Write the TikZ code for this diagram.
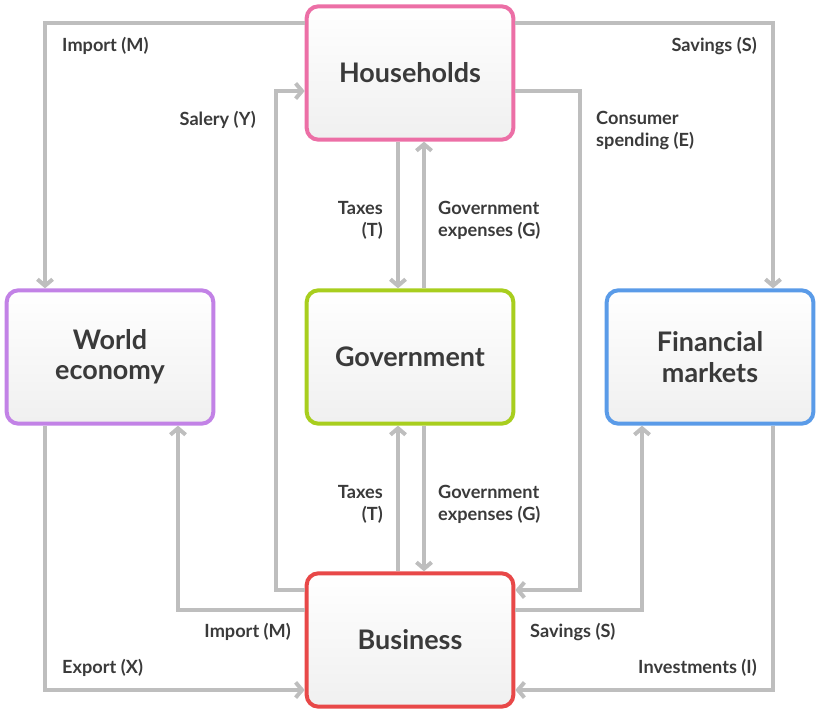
\documentclass[tikz,border=0pt]{standalone}
\usepackage{fontspec}
\setmainfont{Lato}
\usepackage{xcolor}
\definecolor{hhpink}{RGB}{236,111,166}
\definecolor{wepurple}{RGB}{194,130,230}
\definecolor{govgreen}{RGB}{168,206,30}
\definecolor{bured}{RGB}{232,72,72}
\definecolor{fmblue}{RGB}{90,155,232}
\definecolor{flowgray}{RGB}{190,190,190}
\definecolor{txtdark}{RGB}{58,58,58}
\usepackage{tikz}
\usetikzlibrary{arrows.meta,positioning,calc}

\tikzset{
  sector/.style={draw=#1,line width=3.4pt,rounded corners=10pt,
        top color=white,bottom color=black!6,
        minimum width=6.2cm,minimum height=4.0cm,align=center,
        text=txtdark,font=\fontsize{23}{26}\selectfont\bfseries},
  flow/.style={draw=flowgray,line width=3.4pt,
        -{Straight Barb[length=5.5pt,width=13pt]}},
  lbl/.style={text=txtdark,font=\fontsize{15.5}{18.7}\selectfont\bfseries,inner sep=0pt}
}

\begin{document}
\begin{tikzpicture}[x=0.03cm,y=-0.03cm]
  \useasboundingbox (0,0) rectangle (819,712);

  % sectors
  \node[sector=hhpink]   (hh)  at (410,73)  {Households};
  \node[sector=wepurple] (we)  at (110,357) {World\\economy};
  \node[sector=govgreen] (gov) at (410,357) {Government};
  \node[sector=fmblue]   (fm)  at (710,357) {Financial\\markets};
  \node[sector=bured]    (bu)  at (410,640) {Business};

  % flows
  \draw[flow] (hh.west |- 0,23) -| (we.north -| 45,0);
  \draw[flow] (hh.east |- 0,23) -| (fm.north -| 773,0);
  \draw[flow] (bu.west |- 0,590) -| (276,91) -- (hh.west |- 0,91);
  \draw[flow] (hh.east |- 0,91) -| (580,590) -- (bu.east |- 0,590);
  \draw[flow] (hh.south -| 398,0) -- (gov.north -| 398,0);
  \draw[flow] (gov.north -| 424,0) -- (hh.south -| 424,0);
  \draw[flow] (bu.north -| 398,0) -- (gov.south -| 398,0);
  \draw[flow] (gov.south -| 424,0) -- (bu.north -| 424,0);
  \draw[flow] (bu.west |- 0,610) -| (we.south -| 178,0);
  \draw[flow] (we.south -| 45,0) |- (bu.west |- 0,690);
  \draw[flow] (bu.east |- 0,610) -| (fm.south -| 642,0);
  \draw[flow] (fm.south -| 773,0) |- (bu.east |- 0,690);

  % labels
  \node[lbl,anchor=west] (limp1) at (62,46) {Import (M)};
  \node[lbl,anchor=east] (lsav1) at (757,46) {Savings (S)};
  \node[lbl,anchor=east] (lsal)  at (256,120) {Salery (Y)};
  \node[lbl,anchor=north west,align=left] (lcon) at (596,111) {Consumer\\spending (E)};
  \node[lbl,anchor=east,align=right] (ltax1) at (383,220) {Taxes\\(T)};
  \node[lbl,anchor=west,align=left]  (lgex1) at (438,220) {Government\\expenses (G)};
  \node[lbl,anchor=east,align=right] (ltax2) at (383,504) {Taxes\\(T)};
  \node[lbl,anchor=west,align=left]  (lgex2) at (438,504) {Government\\expenses (G)};
  \node[lbl,anchor=east] (limp2) at (291,632) {Import (M)};
  \node[lbl,anchor=west] (lsav2) at (530,632) {Savings (S)};
  \node[lbl,anchor=west] (lexp)  at (62,668) {Export (X)};
  \node[lbl,anchor=east] (linv)  at (757,668) {Investments (I)};
\end{tikzpicture}
\end{document}
